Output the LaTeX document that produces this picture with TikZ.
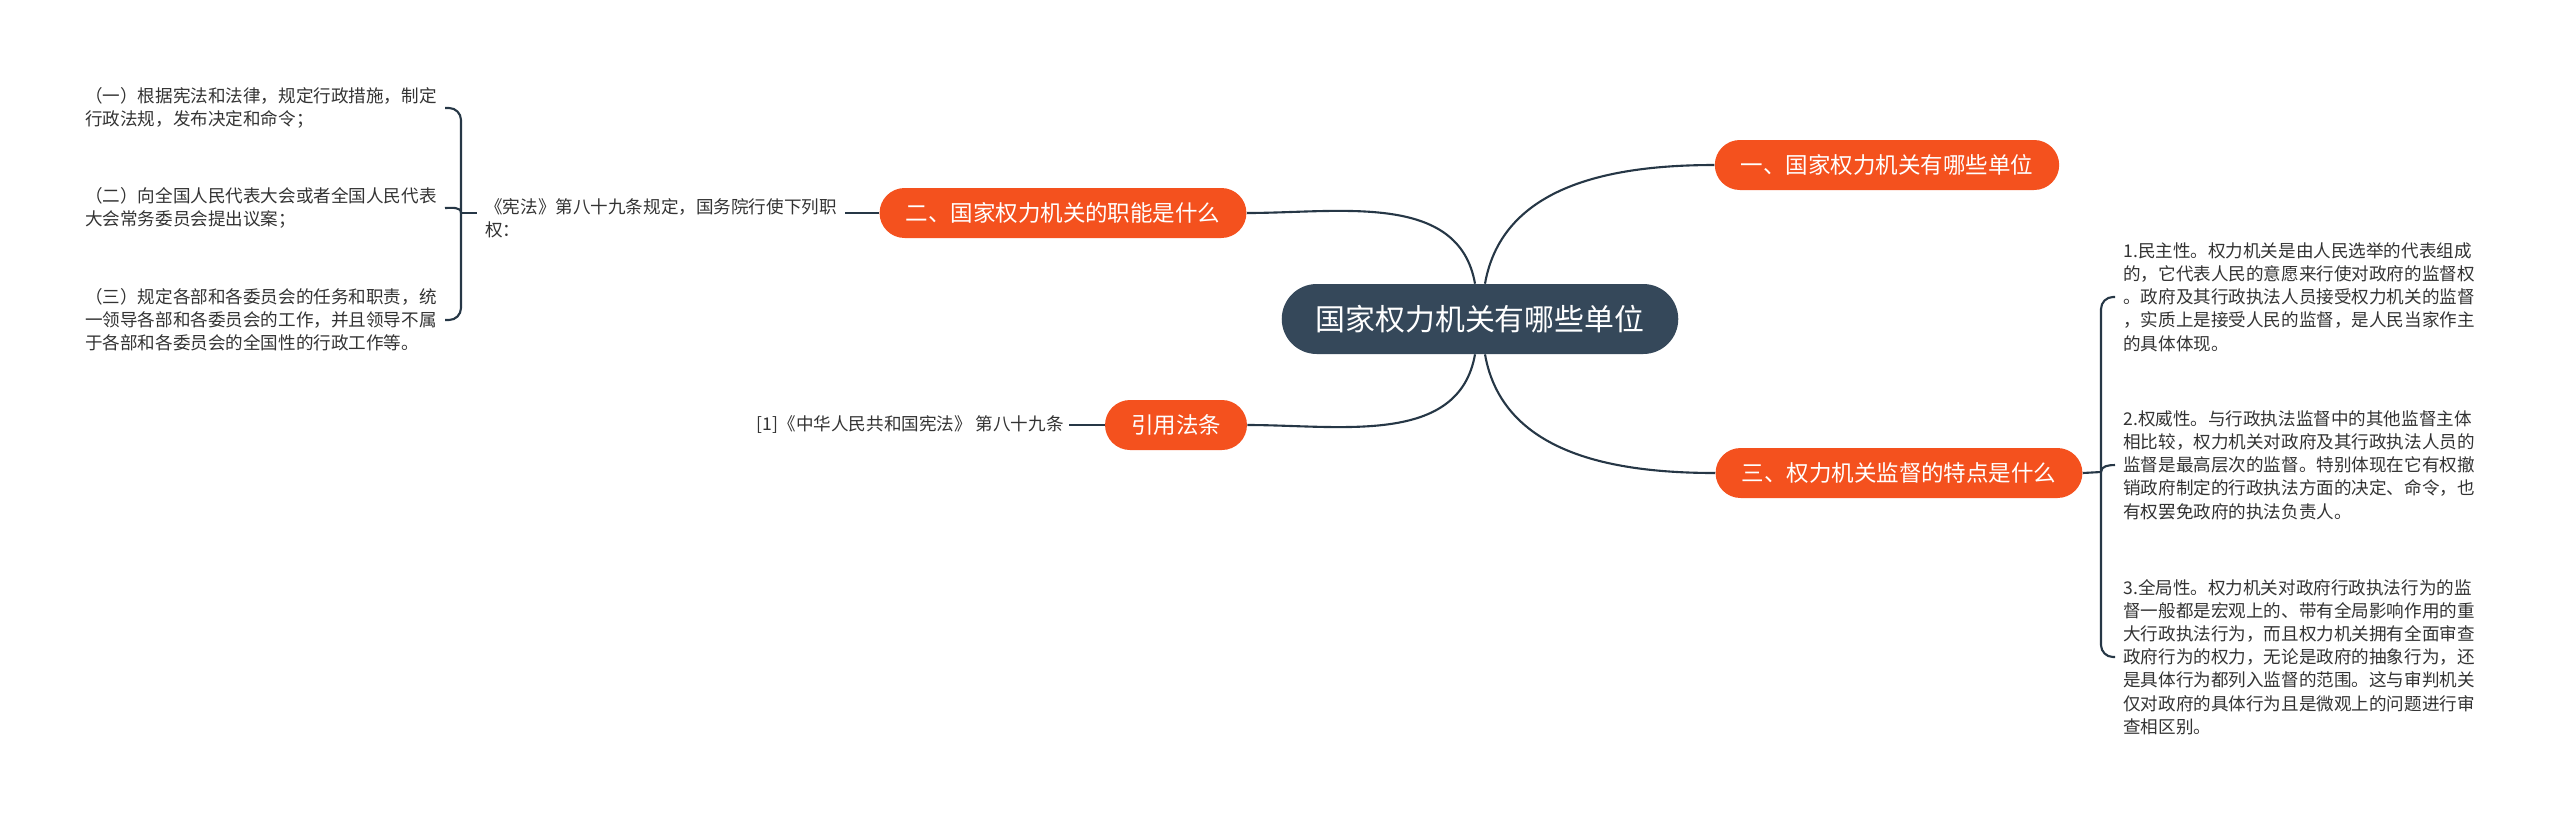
\documentclass[tikz,border=0pt]{standalone}
\usepackage{fontspec}
\usepackage{xcolor}
\newfontfamily\cjk{Noto Sans CJK SC}
\definecolor{mapink}{HTML}{333333}
\definecolor{maproot}{HTML}{35485A}
\definecolor{mapbranch}{HTML}{F4511E}
\definecolor{mapline}{HTML}{263746}

\begin{document}
\begin{tikzpicture}[
  x=0.02cm,
  y=-0.02cm,
  every node/.style={font=\cjk},
  root/.style={fill=maproot, text=white, rounded corners=0.7cm,
               minimum height=1.4cm, inner xsep=0.68cm,
               font=\cjk\fontsize{17}{20}\selectfont},
  branch/.style={fill=mapbranch, text=white, rounded corners=0.5cm,
                 minimum height=1cm, inner xsep=0.52cm,
                 font=\cjk\fontsize{12.8}{15}\selectfont},
  leaf/.style={mapink, align=left, inner sep=0.16cm,
               font=\cjk\fontsize{10}{13.2}\selectfont},
  link/.style={mapline, line width=1.2pt},
  brace/.style={mapline, line width=1.2pt, rounded corners=0.24cm}
]
  \useasboundingbox (0,0) rectangle (2560,816);

  %% ---- 中心與四個分支 -------------------------------------------------
  \node[root] (root) at (1480,319) {国家权力机关有哪些单位};
  \node[branch] (b1) at (1887,165) {一、国家权力机关有哪些单位};
  \node[branch] (b2) at (1063,213) {二、国家权力机关的职能是什么};
  \node[branch] (b3) at (1899,473) {三、权力机关监督的特点是什么};
  \node[branch] (cite) at (1176,425) {引用法条};

  \draw[link] ([xshift=0.1cm]root.north) to[out=80, in=180] (b1.west);
  \draw[link] ([xshift=-0.1cm]root.north) to[out=100, in=0] (b2.east);
  \draw[link] ([xshift=-0.1cm]root.south) to[out=-100, in=0] (cite.east);
  \draw[link] ([xshift=0.1cm]root.south) to[out=-80, in=180] (b3.west);

  %% ---- 左邊: 職能 -----------------------------------------------------
  \node[leaf, anchor=west] (law) at (477,218)
    {《宪法》第八十九条规定，国务院行使下列职\\权：};
  \node[leaf, anchor=east] (l1) at (445,108)
    {（一）根据宪法和法律，规定行政措施，制定\\行政法规，发布决定和命令；};
  \node[leaf, anchor=east] (l2) at (445,208)
    {（二）向全国人民代表大会或者全国人民代表\\大会常务委员会提出议案；};
  \node[leaf, anchor=east] (l3) at (445,320)
    {（三）规定各部和各委员会的任务和职责，统\\一领导各部和各委员会的工作，并且领导不属\\于各部和各委员会的全国性的行政工作等。};

  \draw[link] (b2.west) -- (b2.west -| law.east);
  % 括號: 主幹在 x = 461
  \coordinate (lspine) at (461,213);
  \draw[brace] (l1.east) -| (lspine) |- (l3.east);
  \draw[link] (l2.east) to[out=0, in=90] (lspine);
  \draw[link] (lspine) -- (lspine -| law.west);

  %% ---- 引用 -----------------------------------------------------------
  \node[leaf, anchor=east, inner sep=0.1cm] (ref) at (1069,425)
    {[1]《中华人民共和国宪法》 第八十九条};
  \draw[link] (cite.west) -- (ref.east);

  %% ---- 右邊: 監督的特點 -----------------------------------------------
  \node[leaf, anchor=west] (r1) at (2115,297)
    {1.民主性。权力机关是由人民选举的代表组成\\的，它代表人民的意愿来行使对政府的监督权\\。政府及其行政执法人员接受权力机关的监督\\，实质上是接受人民的监督，是人民当家作主\\的具体体现。};
  \node[leaf, anchor=west] (r2) at (2115,465)
    {2.权威性。与行政执法监督中的其他监督主体\\相比较，权力机关对政府及其行政执法人员的\\监督是最高层次的监督。特别体现在它有权撤\\销政府制定的行政执法方面的决定、命令，也\\有权罢免政府的执法负责人。};
  \node[leaf, anchor=west] (r3) at (2115,657)
    {3.全局性。权力机关对政府行政执法行为的监\\督一般都是宏观上的、带有全局影响作用的重\\大行政执法行为，而且权力机关拥有全面审查\\政府行为的权力，无论是政府的抽象行为，还\\是具体行为都列入监督的范围。这与审判机关\\仅对政府的具体行为且是微观上的问题进行审\\查相区别。};

  \coordinate (rspine) at (2101,472);
  \draw[brace] (r1.west) -| (rspine) |- (r3.west);
  \draw[link] (r2.west) to[out=180, in=90] (rspine);
  \draw[link] (b3.east) -- (rspine);

\end{tikzpicture}
\end{document}
